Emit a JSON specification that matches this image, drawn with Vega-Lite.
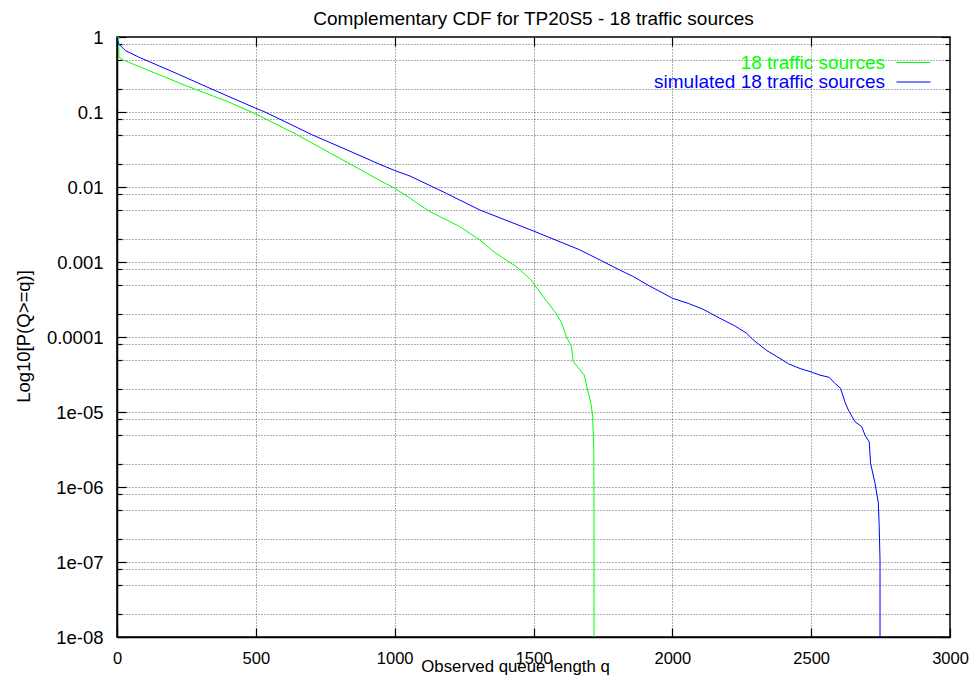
{
  "$schema": "https://vega.github.io/schema/vega-lite/v6.json",
  "autosize": {"type": "none"},
  "padding": {"left": 117, "top": 37, "right": 26, "bottom": 50},
  "width": 833,
  "height": 600,
  "background": "white",
  "config": {
    "font": "Liberation Sans",
    "view": {"stroke": "black", "strokeWidth": 1.5},
    "axis": {"labelFont": "Liberation Sans", "titleFont": "Liberation Sans", "titleFontWeight": "normal", "labelColor": "black", "titleColor": "black", "tickColor": "black", "tickWidth": 1.2, "domainColor": "black", "gridColor": "#444", "gridDash": [1, 2], "gridWidth": 1, "gridOpacity": 0.85}
  },
  "title": {"text": "Complementary CDF for TP20S5 - 18 traffic sources", "fontSize": 19, "fontWeight": "normal", "font": "Liberation Sans", "color": "black", "offset": -1, "anchor": "middle"},
  "data": {"values": [
    {"s": "18 traffic sources", "i": 0, "q": 0, "p": 1},
    {"s": "18 traffic sources", "i": 1, "q": 6, "p": 0.99},
    {"s": "18 traffic sources", "i": 2, "q": 7, "p": 0.54},
    {"s": "18 traffic sources", "i": 3, "q": 24, "p": 0.49},
    {"s": "18 traffic sources", "i": 4, "q": 250, "p": 0.223},
    {"s": "18 traffic sources", "i": 5, "q": 400, "p": 0.137},
    {"s": "18 traffic sources", "i": 6, "q": 500, "p": 0.094},
    {"s": "18 traffic sources", "i": 7, "q": 647, "p": 0.05},
    {"s": "18 traffic sources", "i": 8, "q": 839, "p": 0.0203},
    {"s": "18 traffic sources", "i": 9, "q": 947, "p": 0.0122},
    {"s": "18 traffic sources", "i": 10, "q": 1000, "p": 0.0096},
    {"s": "18 traffic sources", "i": 11, "q": 1055, "p": 0.0071},
    {"s": "18 traffic sources", "i": 12, "q": 1121, "p": 0.00483},
    {"s": "18 traffic sources", "i": 13, "q": 1235, "p": 0.00296},
    {"s": "18 traffic sources", "i": 14, "q": 1307, "p": 0.00196},
    {"s": "18 traffic sources", "i": 15, "q": 1361, "p": 0.00133},
    {"s": "18 traffic sources", "i": 16, "q": 1439, "p": 0.000865},
    {"s": "18 traffic sources", "i": 17, "q": 1490, "p": 0.00058},
    {"s": "18 traffic sources", "i": 18, "q": 1535, "p": 0.000345},
    {"s": "18 traffic sources", "i": 19, "q": 1577, "p": 0.000218},
    {"s": "18 traffic sources", "i": 20, "q": 1601, "p": 0.000155},
    {"s": "18 traffic sources", "i": 21, "q": 1619, "p": 0.0001},
    {"s": "18 traffic sources", "i": 22, "q": 1637, "p": 0.000074},
    {"s": "18 traffic sources", "i": 23, "q": 1643, "p": 0.000047},
    {"s": "18 traffic sources", "i": 24, "q": 1683, "p": 0.000031},
    {"s": "18 traffic sources", "i": 25, "q": 1692, "p": 0.0000218},
    {"s": "18 traffic sources", "i": 26, "q": 1707, "p": 0.000013},
    {"s": "18 traffic sources", "i": 27, "q": 1713, "p": 0.0000087},
    {"s": "18 traffic sources", "i": 28, "q": 1717, "p": 0.0000031},
    {"s": "18 traffic sources", "i": 29, "q": 1718, "p": 0.0000004},
    {"s": "18 traffic sources", "i": 30, "q": 1718, "p": 0.00000001},
    {"s": "simulated 18 traffic sources", "i": 0, "q": 0, "p": 0.95},
    {"s": "simulated 18 traffic sources", "i": 1, "q": 6, "p": 0.81},
    {"s": "simulated 18 traffic sources", "i": 2, "q": 30, "p": 0.66},
    {"s": "simulated 18 traffic sources", "i": 3, "q": 78, "p": 0.54},
    {"s": "simulated 18 traffic sources", "i": 4, "q": 222, "p": 0.318},
    {"s": "simulated 18 traffic sources", "i": 5, "q": 300, "p": 0.236},
    {"s": "simulated 18 traffic sources", "i": 6, "q": 407, "p": 0.158},
    {"s": "simulated 18 traffic sources", "i": 7, "q": 498, "p": 0.113},
    {"s": "simulated 18 traffic sources", "i": 8, "q": 533, "p": 0.1},
    {"s": "simulated 18 traffic sources", "i": 9, "q": 701, "p": 0.05},
    {"s": "simulated 18 traffic sources", "i": 10, "q": 839, "p": 0.03},
    {"s": "simulated 18 traffic sources", "i": 11, "q": 947, "p": 0.02},
    {"s": "simulated 18 traffic sources", "i": 12, "q": 1000, "p": 0.0166},
    {"s": "simulated 18 traffic sources", "i": 13, "q": 1055, "p": 0.014},
    {"s": "simulated 18 traffic sources", "i": 14, "q": 1187, "p": 0.0082},
    {"s": "simulated 18 traffic sources", "i": 15, "q": 1307, "p": 0.00493},
    {"s": "simulated 18 traffic sources", "i": 16, "q": 1500, "p": 0.00259},
    {"s": "simulated 18 traffic sources", "i": 17, "q": 1667, "p": 0.00145},
    {"s": "simulated 18 traffic sources", "i": 18, "q": 1740, "p": 0.00106},
    {"s": "simulated 18 traffic sources", "i": 19, "q": 1811, "p": 0.00078},
    {"s": "simulated 18 traffic sources", "i": 20, "q": 1859, "p": 0.00064},
    {"s": "simulated 18 traffic sources", "i": 21, "q": 1913, "p": 0.00049},
    {"s": "simulated 18 traffic sources", "i": 22, "q": 2001, "p": 0.000328},
    {"s": "simulated 18 traffic sources", "i": 23, "q": 2058, "p": 0.00028},
    {"s": "simulated 18 traffic sources", "i": 24, "q": 2111, "p": 0.000234},
    {"s": "simulated 18 traffic sources", "i": 25, "q": 2160, "p": 0.000187},
    {"s": "simulated 18 traffic sources", "i": 26, "q": 2226, "p": 0.00014},
    {"s": "simulated 18 traffic sources", "i": 27, "q": 2268, "p": 0.000112},
    {"s": "simulated 18 traffic sources", "i": 28, "q": 2292, "p": 0.000091},
    {"s": "simulated 18 traffic sources", "i": 29, "q": 2340, "p": 0.000066},
    {"s": "simulated 18 traffic sources", "i": 30, "q": 2376, "p": 0.000055},
    {"s": "simulated 18 traffic sources", "i": 31, "q": 2418, "p": 0.000044},
    {"s": "simulated 18 traffic sources", "i": 32, "q": 2460, "p": 0.000038},
    {"s": "simulated 18 traffic sources", "i": 33, "q": 2502, "p": 0.000034},
    {"s": "simulated 18 traffic sources", "i": 34, "q": 2532, "p": 0.000031},
    {"s": "simulated 18 traffic sources", "i": 35, "q": 2565, "p": 0.000029},
    {"s": "simulated 18 traffic sources", "i": 36, "q": 2586, "p": 0.000024},
    {"s": "simulated 18 traffic sources", "i": 37, "q": 2606, "p": 0.0000207},
    {"s": "simulated 18 traffic sources", "i": 38, "q": 2622, "p": 0.0000135},
    {"s": "simulated 18 traffic sources", "i": 39, "q": 2634, "p": 0.0000106},
    {"s": "simulated 18 traffic sources", "i": 40, "q": 2658, "p": 0.0000074},
    {"s": "simulated 18 traffic sources", "i": 41, "q": 2682, "p": 0.0000064},
    {"s": "simulated 18 traffic sources", "i": 42, "q": 2694, "p": 0.0000049},
    {"s": "simulated 18 traffic sources", "i": 43, "q": 2709, "p": 0.000004},
    {"s": "simulated 18 traffic sources", "i": 44, "q": 2714, "p": 0.00000207},
    {"s": "simulated 18 traffic sources", "i": 45, "q": 2730, "p": 0.00000112},
    {"s": "simulated 18 traffic sources", "i": 46, "q": 2742, "p": 0.00000061},
    {"s": "simulated 18 traffic sources", "i": 47, "q": 2745, "p": 0.0000003},
    {"s": "simulated 18 traffic sources", "i": 48, "q": 2748, "p": 0.000000106},
    {"s": "simulated 18 traffic sources", "i": 49, "q": 2748, "p": 0.00000001}
  ]},
  "encoding": {
    "x": {"field": "q", "type": "quantitative", "scale": {"domain": [0, 3000], "nice": false, "zero": false}},
    "y": {"field": "p", "type": "quantitative", "scale": {"type": "log", "domain": [1e-8, 1], "nice": false}}
  },
  "layer": [
    {
      "mark": {"type": "line", "strokeWidth": 1, "clip": true},
      "encoding": {
        "x": {"field": "q", "type": "quantitative", "title": "Observed queue length q",
          "axis": {"orient": "bottom", "values": [0, 500, 1000, 1500, 2000, 2500, 3000], "format": "d", "labelFlush": false, "grid": true, "tickSize": -9, "labelPadding": 22, "labelFontSize": 16.5, "titleFontSize": 16.8, "domainWidth": 1.5, "titleX": 398, "titleY": 34, "titleBaseline": "alphabetic", "titleAlign": "center"}},
        "y": {"field": "p", "type": "quantitative", "title": "Log10[P(Q>=q)]",
          "axis": {"orient": "left", "grid": true,
            "values": [1e-8, 2e-8, 5e-8, 8e-8, 1e-7, 2e-7, 5e-7, 8e-7, 1e-6, 2e-6, 5e-6, 8e-6, 1e-5, 2e-5, 5e-5, 8e-5, 0.0001, 0.0002, 0.0005, 0.0008, 0.001, 0.002, 0.005, 0.008, 0.01, 0.02, 0.05, 0.08, 0.1, 0.2, 0.5, 0.8, 1],
            "labelExpr": "abs(log(datum.value)/LN10 - round(log(datum.value)/LN10)) > 0.001 ? '' : (datum.value >= 0.0001 ? toString(datum.value) : '1e-0' + toString(-round(log(datum.value)/LN10)))",
            "tickSize": {"condition": {"test": "abs(log(datum.value)/LN10 - round(log(datum.value)/LN10)) < 0.001", "value": -9}, "value": -5},
            "labelPadding": 23, "labelFontSize": 18.5, "titleFontSize": 18.5, "domainWidth": 1.5, "titleX": -88, "titleY": 299, "titleAngle": -90, "titleBaseline": "alphabetic", "titleAlign": "center"}},
        "color": {"field": "s", "type": "nominal", "title": null,
          "scale": {"domain": ["18 traffic sources", "simulated 18 traffic sources"], "range": ["#00ff00", "#0000ff"]},
          "legend": {"orient": "none", "legendX": 779, "legendY": 12, "symbolType": "stroke", "symbolSize": 1156, "symbolStrokeWidth": 1, "labelAlign": "right", "labelOffset": -46, "labelFontSize": 19, "labelFont": "Liberation Sans", "labelLimit": 0, "rowPadding": 0, "padding": 0,
            "encode": {
              "labels": {"update": {"fill": {"scale": "color", "field": "value"}, "y": {"signal": "13.5 - 12.5 * datum.index"}}},
              "symbols": {"update": {"stroke": {"scale": "color", "field": "value"}, "y": {"signal": "13.5 - 12.5 * datum.index"}}}}}},
        "order": {"field": "i", "type": "quantitative"}
      }
    },
    {
      "mark": {"type": "line", "opacity": 0},
      "encoding": {
        "x": {"field": "q", "type": "quantitative", "axis": {"orient": "top", "values": [500, 1000, 1500, 2000, 2500], "labels": false, "title": null, "grid": false, "tickSize": -9, "domain": false}},
        "y": {"field": "p", "type": "quantitative",
          "axis": {"orient": "right", "labels": false, "title": null, "grid": false, "domain": false,
            "values": [1e-8, 2e-8, 5e-8, 8e-8, 1e-7, 2e-7, 5e-7, 8e-7, 1e-6, 2e-6, 5e-6, 8e-6, 1e-5, 2e-5, 5e-5, 8e-5, 0.0001, 0.0002, 0.0005, 0.0008, 0.001, 0.002, 0.005, 0.008, 0.01, 0.02, 0.05, 0.08, 0.1, 0.2, 0.5, 0.8, 1],
            "tickSize": {"condition": {"test": "abs(log(datum.value)/LN10 - round(log(datum.value)/LN10)) < 0.001", "value": -9}, "value": -5}}},
        "detail": {"field": "s", "type": "nominal"},
        "order": {"field": "i", "type": "quantitative"}
      }
    }
  ],
  "resolve": {"axis": {"x": "independent", "y": "independent"}}
}
